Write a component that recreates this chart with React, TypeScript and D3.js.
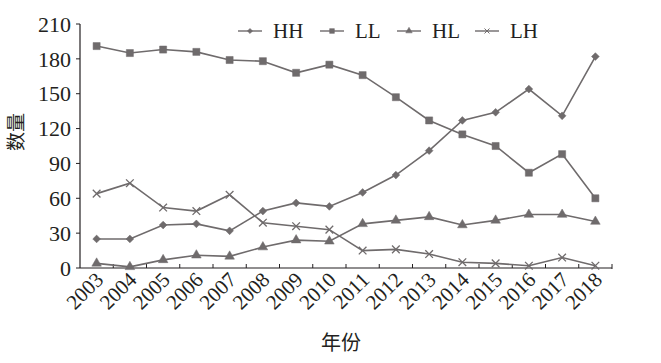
import React, { useEffect, useRef } from "react";
import * as d3 from "d3";

const years = ["2003", "2004", "2005", "2006", "2007", "2008", "2009", "2010", "2011", "2012", "2013", "2014", "2015", "2016", "2017", "2018"];
const hh = [25, 25, 37, 38, 32, 49, 56, 53, 65, 80, 101, 127, 134, 154, 131, 182];
const ll = [191, 185, 188, 186, 179, 178, 168, 175, 166, 147, 127, 115, 105, 82, 98, 60];
const hl = [4, 1, 7, 11, 10, 18, 24, 23, 38, 41, 44, 37, 41, 46, 46, 40];
const lh = [64, 73, 52, 49, 63, 39, 36, 33, 15, 16, 12, 5, 4, 2, 9, 2];
const yTicks = [0, 30, 60, 90, 120, 150, 180, 210];

const lineColor = "#6f6b6c";
const textColor = "#231f20";

const App = () => {
	const ref = useRef<SVGSVGElement>(null);

	useEffect(() => {
		const svg = d3.select(ref.current);
		svg.selectAll("*").remove();

		const left = 80, right = 612, top = 24, bottom = 268;

		const x = d3.scaleBand().domain(years).range([left, right]);
		const y = d3.scaleLinear().domain([0, 210]).range([bottom, top]);
		const cx = (d: string) => (x(d) as number) + x.bandwidth() / 2;

		// diamond = square turned 45deg
		const series = [
			{ name: "HH", values: hh, sym: d3.symbolSquare, size: 30, rot: 45 },
			{ name: "LL", values: ll, sym: d3.symbolSquare, size: 50, rot: 0 },
			{ name: "HL", values: hl, sym: d3.symbolTriangle, size: 40, rot: 0 },
			{ name: "LH", values: lh, sym: d3.symbolX, size: 40, rot: 0 },
		];

		// y axis
		svg.append("line").attr("x1", left).attr("x2", left).attr("y1", top).attr("y2", bottom)
			.attr("stroke", textColor).attr("stroke-width", 1.2);
		yTicks.forEach((t) => {
			svg.append("line").attr("x1", left - 4).attr("x2", left).attr("y1", y(t)).attr("y2", y(t))
				.attr("stroke", textColor).attr("stroke-width", 1);
			svg.append("text").attr("x", left - 9).attr("y", y(t)).attr("dy", "0.35em")
				.attr("text-anchor", "end").attr("font-family", "Liberation Serif").attr("font-size", 22)
				.attr("fill", textColor).text(t);
		});

		// x axis
		svg.append("line").attr("x1", left).attr("x2", right).attr("y1", bottom).attr("y2", bottom)
			.attr("stroke", textColor).attr("stroke-width", 1.2);
		years.forEach((yr, i) => {
			const bx = (x(yr) as number) + x.bandwidth();
			svg.append("line").attr("x1", bx).attr("x2", bx).attr("y1", bottom - 4).attr("y2", i === years.length - 1 ? bottom + 1 : bottom)
				.attr("stroke", textColor).attr("stroke-width", 1);
			const px = cx(yr) + 8, py = bottom + 13;
			svg.append("text").attr("transform", `translate(${px},${py}) rotate(-45)`)
				.attr("text-anchor", "end").attr("font-family", "Liberation Serif").attr("font-size", 21)
				.attr("fill", textColor).text(yr);
		});

		// axis titles
		svg.append("text").attr("transform", `translate(23,${132}) rotate(-90)`)
			.attr("text-anchor", "middle").attr("font-family", "Noto Sans CJK SC").attr("font-size", 19)
			.attr("fill", textColor).text("数量");
		svg.append("text").attr("x", 341).attr("y", 350).attr("text-anchor", "middle")
			.attr("font-family", "Noto Sans CJK SC").attr("font-size", 20).attr("fill", textColor).text("年份");

		const line = d3.line<number>().x((_, i) => cx(years[i])).y((d) => y(d));

		series.forEach((s) => {
			svg.append("path").attr("d", line(s.values) as string).attr("fill", "none")
				.attr("stroke", lineColor).attr("stroke-width", 1.6);
			const isX = s.sym === d3.symbolX;
			svg.selectAll(null).data(s.values).enter().append("path")
				.attr("d", d3.symbol().type(s.sym).size(s.size)())
				.attr("transform", (d, i) => `translate(${cx(years[i])},${y(d)}) rotate(${s.rot})`)
				.attr("fill", isX ? "none" : lineColor)
				.attr("stroke", lineColor).attr("stroke-width", isX ? 1.3 : 0.5);
		});

		// legend
		const legendX = [238, 320, 397, 475];
		series.forEach((s, i) => {
			const lx = legendX[i], ly = 31;
			const isX = s.sym === d3.symbolX;
			svg.append("line").attr("x1", lx).attr("x2", lx + 24).attr("y1", ly).attr("y2", ly)
				.attr("stroke", lineColor).attr("stroke-width", 1.4);
			svg.append("path").attr("d", d3.symbol().type(s.sym).size(s.size * 0.45)())
				.attr("transform", `translate(${lx + 12},${ly}) rotate(${s.rot})`)
				.attr("fill", isX ? "none" : lineColor).attr("stroke", lineColor).attr("stroke-width", isX ? 1 : 0.5);
			svg.append("text").attr("x", lx + 35).attr("y", ly).attr("dy", "0.35em")
				.attr("font-family", "Liberation Serif").attr("font-size", 21).attr("fill", textColor).text(s.name);
		});
	}, []);

	return <svg ref={ref} width={661} height={363} style={{ position: "absolute", left: 0, top: 0, background: "#fff" }}></svg>;
};

export default App;
